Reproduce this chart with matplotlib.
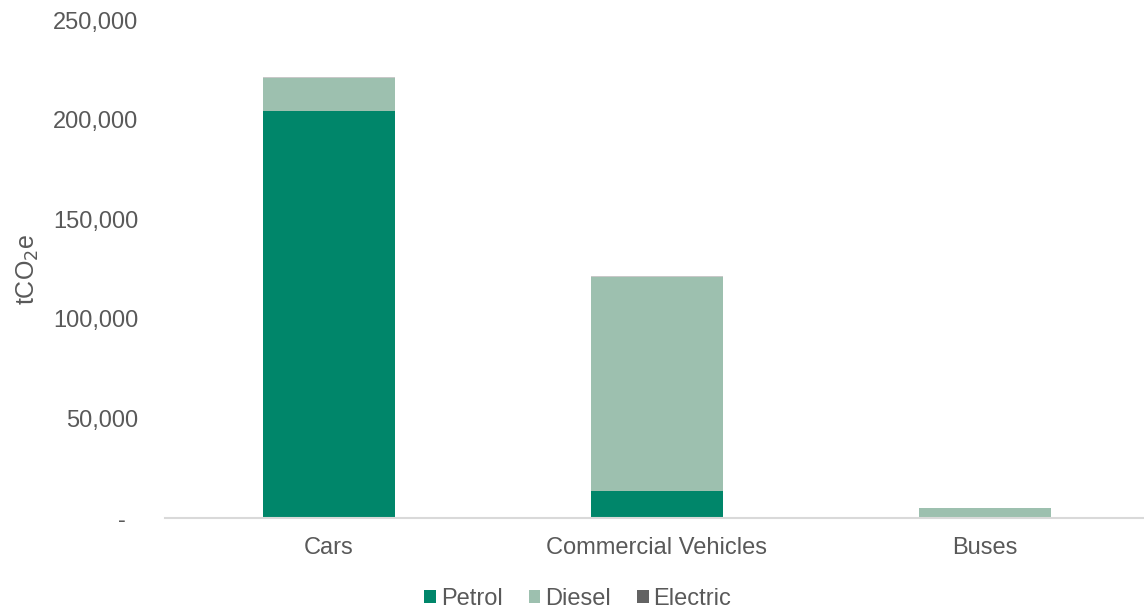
import matplotlib
matplotlib.use("Agg")
import matplotlib.pyplot as plt
from matplotlib.ticker import FuncFormatter

categories = ["Cars", "Commercial Vehicles", "Buses"]
petrol = [204300, 13600, 150]
diesel = [16600, 107400, 4700]
electric = [300, 300, 300]

colors = {"Petrol": "#00866A", "Diesel": "#9DC0AF", "Electric": "#636363"}
text_color = "#595959"

plt.rcParams['font.family'] = ['Liberation Sans', 'DejaVu Sans']

fig = plt.figure(figsize=(11.44, 6.10), dpi=100)
ax = fig.add_axes([165 / 1144, 0.1508, 984 / 1144, 0.8162])

x = list(range(len(categories)))
w = 0.4
b1 = petrol
b2 = [p + d for p, d in zip(petrol, diesel)]
ax.bar(x, petrol, w, color=colors["Petrol"], label="Petrol", zorder=2)
ax.bar(x, diesel, w, bottom=b1, color=colors["Diesel"], label="Diesel", zorder=2)
ax.bar(x, electric, w, bottom=b2, color=colors["Electric"], alpha=0.35, label="_nolegend_", zorder=2)
ax.bar([0], [0], w, color=colors["Electric"], label="Electric")

ax.set_xlim(-0.5, 2.5)
ax.set_ylim(0, 250000)
ax.set_yticks(range(0, 250001, 50000))
ax.yaxis.set_major_formatter(FuncFormatter(lambda v, p: "-  " if v == 0 else f"{int(v):,}"))
ax.set_xticks(x)
ax.set_xticklabels(categories)
ax.tick_params(axis='both', length=0, labelsize=17, colors=text_color)
ax.tick_params(axis='x', pad=14)
ax.tick_params(axis='y', pad=19)

for s in ["top", "right", "left"]:
    ax.spines[s].set_visible(False)
ax.spines["bottom"].set_color("#D9D9D9")
ax.spines["bottom"].set_linewidth(1.5)

ax.set_ylabel("tCO$_2$e", fontsize=18, color=text_color, labelpad=9)

leg = fig.legend(loc="lower center", bbox_to_anchor=(0.505, -0.035), ncol=3, frameon=False,
                 fontsize=17, handlelength=0.5, handleheight=0.5, handletextpad=0.2,
                 columnspacing=1.1, labelcolor=text_color)

fig.savefig("out.png", dpi=100)
